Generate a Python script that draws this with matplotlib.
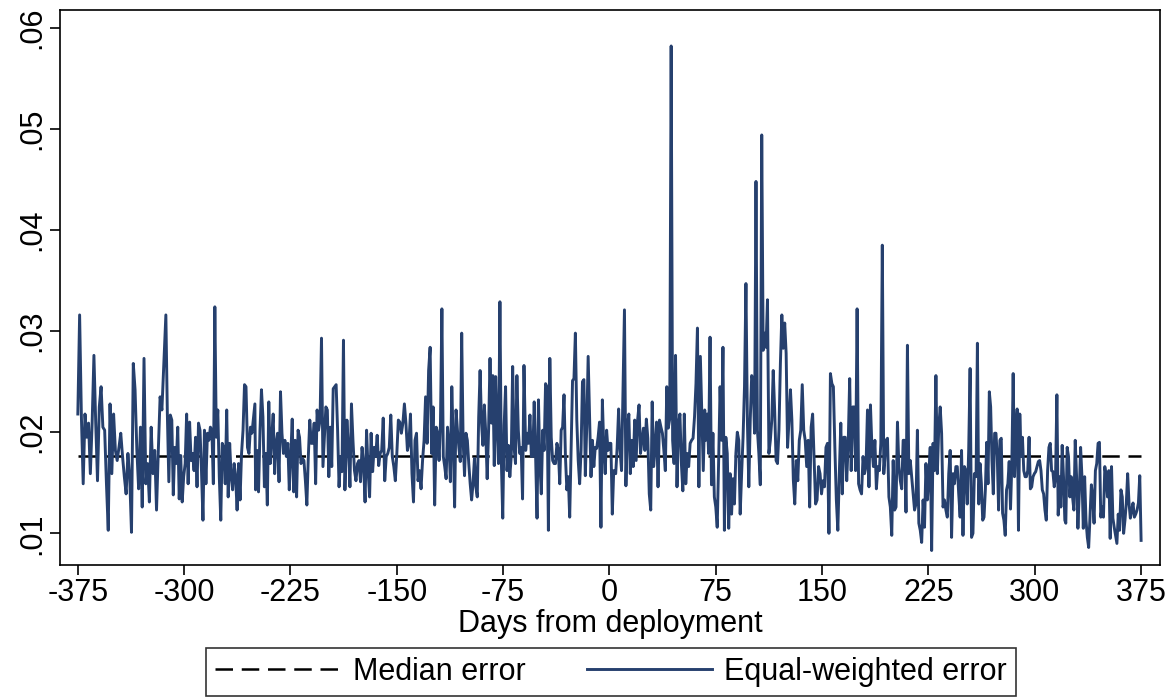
import numpy as np
import matplotlib
matplotlib.use("Agg")
import matplotlib.pyplot as plt

plt.rcParams['font.family'] = ['Liberation Sans', 'DejaVu Sans']
plt.rcParams['axes.unicode_minus'] = False

# Equal-weighted error (in thousandths)
err_a = [21.8, 31.6, 21.5, 14.9, 21.8, 19.5, 20.9, 15.9, 20.9, 27.6, 20.9, 15.2, 22.5, 24.5, 20.5, 20.2,
         14.9, 10.3, 22.8, 15.9, 21.8, 18.2, 17.2, 18.5, 19.9, 17.6, 15.6, 13.9, 17.9, 15.6, 10.1, 26.8,
         24.2, 18.2, 14.4, 20.5, 12.6, 27.3, 14.9, 16.9, 13.1, 20.5, 15.9, 18.2, 12.3, 18.2, 23.5, 22.2]
err_b = [31.6, 21.8, 15.1, 21.7, 21.2, 13.8, 18.5, 16.9, 20.5, 13.4, 17.7, 13.1, 15.6, 16.9, 21.8, 14.9,
         21.0, 17.2, 17.9, 16.2, 19.5, 14.6, 20.9, 20.2, 16.2, 11.3, 20.2, 14.9, 19.9, 19.2, 20.5, 20.2,
         14.9, 32.4, 19.5, 22.2, 15.6, 11.3, 18.9, 18.5, 14.9, 22.2, 13.6, 18.9, 15.6, 14.3, 16.9, 15.6,
         12.3, 16.9, 13.3, 17.9, 20.2, 24.7, 24.5, 18.5, 17.9, 20.5, 19.9, 21.4, 22.8]
err_c = [14.3, 18.2, 14.1, 20.2, 24.2, 21.5, 14.6, 17.9, 12.8, 23.0, 16.9, 19.5, 21.8, 15.9, 18.9, 19.9,
         15.1, 24.0, 19.9, 17.9, 19.2, 17.6, 18.9, 14.3, 17.6, 21.3, 14.1, 19.2, 13.6, 20.2, 19.5, 16.9,
         17.4, 17.2, 15.2, 12.8, 17.6, 21.2, 18.9, 18.9, 20.9, 14.9, 22.2, 20.2, 21.2, 29.3, 16.6, 19.5,
         22.5, 22.2, 15.6, 20.5, 16.6, 24.3, 24.5, 24.7, 20.2, 14.6, 17.6, 16.1, 29.1, 14.3]
err_d = [21.2, 18.5, 14.6, 22.8, 19.2, 16.2, 15.2, 16.9, 17.2, 15.1, 18.5, 16.9, 13.1, 20.2, 16.2, 13.6,
         19.9, 16.1, 18.5, 17.6, 19.7, 16.7, 17.9, 18.2, 21.4, 15.2, 17.6, 17.9, 18.5, 21.7, 17.6, 16.6,
         15.2, 17.9, 21.2, 21.0, 19.9, 20.9, 22.8, 20.9, 18.2, 18.9, 21.8, 15.9, 13.1, 19.2, 19.9, 15.2,
         16.2, 14.4, 17.2, 19.2, 23.5, 18.9, 26.1, 28.4, 17.9, 22.5, 12.8]
err_e = [20.5, 19.9, 17.2, 20.9, 32.2, 17.6, 16.6, 15.4, 20.5, 18.9, 15.1, 24.5, 19.2, 12.6, 22.2, 20.2,
         18.5, 17.1, 29.8, 19.2, 15.7, 19.9, 19.2, 16.9, 14.9, 13.3, 14.9, 17.4, 14.6, 13.6, 21.5, 26.1,
         20.9, 18.7, 22.7, 19.9, 15.4, 20.2, 27.3, 20.9, 25.6, 16.7, 25.5, 20.5, 16.9, 32.9, 17.2, 11.5,
         20.7, 24.5, 16.2, 18.7, 15.6, 17.6, 26.5, 18.5, 16.9, 25.6, 20.2, 17.9, 18.5, 13.4, 26.6]
err_f = [18.2, 19.9, 18.9, 21.7, 17.6, 17.6, 23.0, 17.6, 11.5, 23.2, 16.9, 13.9, 20.2, 18.2, 24.8, 24.5,
         10.3, 27.3, 19.5, 17.2, 16.9, 16.9, 18.9, 18.2, 14.9, 20.2, 20.5, 23.7, 17.6, 14.3, 15.6, 11.6,
         18.2, 25.1, 25.3, 29.8, 21.2, 17.2, 14.9, 18.2, 25.0, 25.2, 15.7, 20.5, 27.5, 21.5, 15.6, 19.2,
         16.6, 18.5, 18.4, 19.5, 21.0, 10.6, 23.2, 18.5, 15.9, 20.2, 18.2, 18.9, 18.9, 11.9, 16.2]
err_g = [15.9, 18.5, 22.3, 18.2, 16.2, 24.1, 32.1, 14.7, 20.5, 21.8, 15.9, 19.2, 16.6, 21.2, 17.2, 21.2,
         22.7, 17.9, 19.2, 20.4, 18.2, 21.3, 19.4, 13.9, 12.3, 23.0, 16.6, 18.5, 21.0, 14.6, 21.2, 20.5,
         19.9, 18.2, 16.2, 24.5, 20.4, 21.3, 58.2, 19.2, 16.9, 27.6, 14.6, 20.8, 21.8, 16.9, 14.2, 21.8,
         14.9, 17.9, 16.6, 18.9, 19.2, 19.4, 21.5, 24.8, 30.3, 14.6, 27.5, 21.8, 16.2, 22.2]
err_h = [19.2, 21.8, 17.9, 29.4, 14.8, 19.9, 13.6, 12.6, 10.6, 17.2, 24.5, 19.2, 28.4, 10.3, 19.5, 17.9,
         10.5, 15.9, 11.9, 15.4, 12.9, 17.9, 20.0, 19.2, 11.9, 15.9, 19.5, 24.5, 34.7, 21.2, 14.6, 21.2,
         25.6, 25.1, 19.9, 44.8, 20.2, 17.9, 14.8, 49.4, 28.1, 29.8, 28.4, 33.1, 17.9, 19.2, 21.2, 26.1,
         22.2, 17.2, 16.9, 20.2, 26.8, 31.6, 28.3, 30.8, 27.8, 18.5, 21.2, 24.2, 21.2, 15.3, 12.9]
err_i = [17.2, 15.2, 19.2, 20.2, 24.7, 20.2, 19.2, 16.6, 19.2, 12.6, 20.5, 21.8, 17.2, 12.9, 13.3, 16.6,
         15.9, 13.9, 15.2, 14.6, 18.5, 18.9, 10.0, 25.8, 24.8, 24.5, 18.5, 13.3, 10.3, 15.9, 20.9, 13.9,
         19.5, 19.5, 15.2, 18.9, 25.3, 16.2, 22.5, 22.5, 16.2, 32.2, 14.9, 14.3, 13.9, 17.6, 15.9, 16.6,
         22.2, 14.6, 22.7, 18.5, 16.6, 19.2, 14.4, 16.6, 16.2, 18.9, 38.5, 15.9]
err_j = [19.2, 19.4, 13.6, 12.6, 9.8, 17.2, 12.3, 12.6, 21.0, 16.6, 15.2, 14.4, 19.2, 19.2, 12.1, 28.6,
         15.9, 17.2, 15.6, 13.9, 12.3, 12.9, 20.2, 11.0, 10.3, 9.1, 13.3, 10.6, 16.9, 13.3, 15.6, 18.5,
         8.3, 18.9, 16.2, 25.6, 15.9, 20.5, 22.5, 19.9, 12.6, 13.3, 12.3, 11.6, 15.9, 18.2, 9.6, 15.9,
         14.9, 16.6, 16.6, 13.9, 11.6, 18.2, 9.8, 16.6, 16.2, 12.9, 18.2, 26.3, 9.6, 10.0, 15.9]
err_k = [15.6, 28.8, 12.9, 16.9, 14.9, 11.3, 11.6, 14.3, 19.0, 14.9, 24.0, 22.5, 17.2, 13.9, 19.9, 19.9,
         17.6, 12.3, 19.2, 19.4, 12.0, 11.3, 9.8, 14.3, 14.9, 17.1, 12.4, 16.9, 25.8, 15.6, 19.9, 22.3,
         10.3, 21.8, 17.6, 19.5, 16.2, 15.6, 15.6, 16.2, 19.5, 14.4, 14.6, 15.6, 15.9, 16.1, 16.6, 17.1,
         17.2, 16.2, 14.3, 13.9, 12.3, 11.3, 16.2, 18.5, 18.9, 16.2, 16.1, 14.6, 15.6, 23.7, 11.8, 15.6,
         12.6, 18.7, 15.6, 11.3]
err_l = [11.0, 18.5, 17.6, 13.6, 15.6, 13.6, 12.3, 19.2, 15.6, 10.5, 13.9, 18.5, 15.6, 10.5, 15.6, 11.3,
         9.6, 8.6, 11.6, 14.8, 13.6, 11.0, 16.2, 16.9, 18.9, 19.0, 11.6, 12.6, 11.6, 16.6, 15.6, 13.6,
         16.2, 9.5, 16.6, 11.5, 10.6, 9.8, 9.0, 11.9, 10.3, 14.3, 13.6, 10.0, 11.3, 13.0, 15.9, 13.0,
         11.5, 12.3, 13.0, 11.6, 11.9, 12.3, 13.0, 15.7, 9.3]

# first and last day covered by each stretch
spans = [(-375, -315.7), (-312.9, -250.1), (-249.6, -186.6), (-185.2, -123.3),
         (-122.2, -60.3), (-59.1, 3.0), (4.4, 67.2), (67.9, 130.7),
         (131.8, 193.5), (195.1, 257.4), (258.6, 321.2), (321.9, 375)]
stretches = [err_a, err_b, err_c, err_d, err_e, err_f, err_g, err_h, err_i, err_j, err_k, err_l]

median_error = 0.0176

days = np.concatenate([np.linspace(s, e, len(v)) for (s, e), v in zip(spans, stretches)])
error = np.concatenate(stretches) / 1000.0

fig = plt.figure(figsize=(11.73, 6.98), dpi=100)
ax = fig.add_axes([0.051, 0.19, 0.938, 0.796])

med_line, = ax.plot([days[0], days[-1]], [median_error, median_error], color='black',
                    linestyle=(0, (7, 3.5)), linewidth=1.8, label='Median error')
err_line, = ax.plot(days, error, color='#26406e', linewidth=2.1, label='Equal-weighted error')

ax.set_xlim(-387.7, 388.4)
ax.set_ylim(0.00683, 0.06178)

xticks = [-375, -300, -225, -150, -75, 0, 75, 150, 225, 300, 375]
ax.set_xticks(xticks)
ax.set_xticklabels([str(t) for t in xticks])
yticks = [0.01, 0.02, 0.03, 0.04, 0.05, 0.06]
ax.set_yticks(yticks)
ax.set_yticklabels(['.01', '.02', '.03', '.04', '.05', '.06'], rotation=90, va='center')

ax.tick_params(axis='both', labelsize=22, length=7, width=1.2, direction='out', color='black')
ax.tick_params(axis='x', pad=2)
ax.tick_params(axis='y', pad=2)
for sp in ax.spines.values():
    sp.set_linewidth(1.2)
    sp.set_color('black')

ax.set_xlabel('Days from deployment', fontsize=22, labelpad=1)

leg = fig.legend(handles=[med_line, err_line], loc='center', bbox_to_anchor=(0.521, 0.037),
                 ncol=2, fontsize=22, frameon=True, fancybox=False, edgecolor='black',
                 handlelength=4.1, columnspacing=2.0, borderpad=0.3, handletextpad=0.4)
leg.get_frame().set_linewidth(1.2)

fig.savefig('out.png', dpi=100, facecolor='white')
